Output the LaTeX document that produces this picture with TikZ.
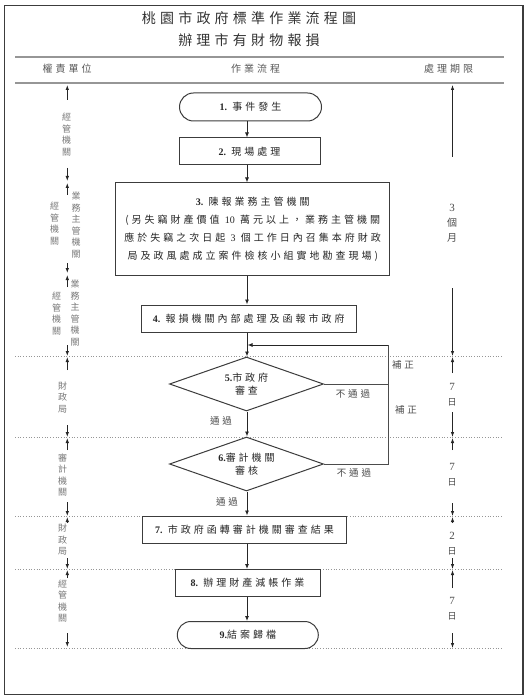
\documentclass[tikz,border=0pt]{standalone}
\usepackage{fontspec}
\setmainfont{Liberation Serif}
\newfontfamily\cjk[LetterSpace=30]{Noto Sans CJK TC}
\newfontfamily\cjkv{Noto Sans CJK TC}
\newfontfamily\lat{Liberation Serif}
\newcommand\stepno[1]{{\lat\bfseries #1}}
\usetikzlibrary{shapes.geometric,shapes.misc,arrows.meta}
\definecolor{linegray}{RGB}{60,60,60}
\definecolor{sidegray}{RGB}{120,120,120}
\definecolor{rulegray}{RGB}{150,150,150}
\tikzset{
  box/.style={draw=linegray, line width=1pt, inner sep=0pt, align=center,
    font=\cjk\fontsize{10}{18}\selectfont, text=black!85},
  term/.style={box, rounded rectangle},
  dec/.style={box, diamond, minimum width=154pt, minimum height=54pt, aspect=2.85},
  arr/.style={draw=black!85, line width=0.9pt, -{Latex[length=5pt,width=4pt]}},
  lin/.style={draw=black!70, line width=0.9pt},
  sarr/.style={draw=black!85, line width=0.8pt, -{Latex[length=5pt,width=3.5pt]}},
  side/.style={font=\cjkv\fontsize{9}{11.5}\selectfont, text=sidegray, align=center, inner sep=0pt},
  rside/.style={font=\lat\fontsize{11}{15}\selectfont, text=black!70, align=center, inner sep=0pt},
  lbl/.style={font=\cjk\fontsize{9.5}{11}\selectfont, text=black!70, inner sep=0pt},
  hdr/.style={font=\cjk\fontsize{10}{12}\selectfont, text=black!65, inner sep=0pt},
  ttl/.style={font=\cjk\fontsize{14}{16}\selectfont, text=black!80, inner sep=0pt},
  dotl/.style={draw=rulegray, line width=0.7pt, dotted},
  rule/.style={draw=rulegray, line width=1.6pt}
}
\begin{document}
\begin{tikzpicture}[x=1pt,y=-1pt]
\useasboundingbox (0,0) rectangle (528,700);
\fill[white] (0,0) rectangle (528,700);
% frame
\draw[draw=linegray, line width=1.2pt] (4.5,5.5) rectangle (523,694.5);
% title
\node[ttl] (t1) at (249,18) {桃園市政府標準作業流程圖};
\node[ttl] (t2) at (249,40) {辦理市有財物報損};
% header rules
\coordinate (hA1) at (15,57.3); \coordinate (hA2) at (504,57.3);
\coordinate (hB1) at (15,83.3); \coordinate (hB2) at (504,83.3);
\draw[rule] (hA1) -- (hA2);
\draw[rule] (hB1) -- (hB2);
\node[hdr] (h1) at (67,69) {權責單位};
\node[hdr] (h2) at (255.5,69) {作業流程};
\node[hdr] (h3) at (448.5,69) {處理期限};
% dotted separators
\foreach \yy [count=\i] in {356,437,516,569,648}{
  \coordinate (dl\i) at (15,\yy); \coordinate (dr\i) at (503,\yy);
  \draw[dotl] (dl\i) -- (dr\i);
}
% flow axis
\coordinate (fx) at (247,0);
% flow nodes
\node[term, minimum width=142pt, minimum height=28pt] (n1) at (250.5,107) {\stepno{1.}~事件發生};
\node[box, minimum width=141pt, minimum height=27pt] (n2) at (249.5,151.5) {\stepno{2.}~現場處理};
\node[box, minimum width=274pt, minimum height=92pt, font=\cjk\fontsize{10}{18}\selectfont] (n3) at (252.7,229)
  {\stepno{3.}~陳報業務主管機關\\(另失竊財產價值 {\lat 10} 萬元以上，業務主管機關\\應於失竊之次日起 {\lat 3} 個工作日內召集本府財政\\局及政風處成立案件檢核小組實地勘查現場)};
\node[box, minimum width=215pt, minimum height=27pt] (n4) at (248.8,318.5) {\stepno{4.}~報損機關內部處理及函報市政府};
\node[dec, font=\cjk\fontsize{10}{13}\selectfont] (d5) at (246.5,384) {\stepno{5.}市政府\\審查};
\node[dec, font=\cjk\fontsize{10}{13}\selectfont] (d6) at (246.5,464) {\stepno{6.}審計機關\\審核};
\node[box, minimum width=204pt, minimum height=27pt] (n7) at (244.5,529.5) {\stepno{7.}~市政府函轉審計機關審查結果};
\node[box, minimum width=145pt, minimum height=27pt] (n8) at (247.5,583) {\stepno{8.}~辦理財產減帳作業};
\node[term, minimum width=141pt, minimum height=27pt] (n9) at (247.8,635) {\stepno{9.}結案歸檔};
% flow connectors
\draw[arr] (n1.south -| fx) -- (n2.north -| fx);
\draw[arr] (n2.south -| fx) -- (n3.north -| fx);
\draw[arr] (n3.south -| fx) -- (n4.north -| fx);
\draw[arr] (n4.south -| fx) -- (d5.north -| fx);
\draw[arr] (d5.south -| fx) -- (d6.north -| fx);
\draw[arr] (d6.south -| fx) -- (n7.north -| fx);
\draw[arr] (n7.south -| fx) -- (n8.north -| fx);
\draw[arr] (n8.south -| fx) -- (n9.north -| fx);
% loop back
\coordinate (lpTop) at (388,345);
\coordinate (lpEnd) at (247.5,345);
\draw[lin] (d5.east) -- (d5.east -| lpTop);
\draw[lin] (d6.east) -| (lpTop);
\draw[arr] (lpTop) -- (lpEnd);
\node[lbl] (b1) at (403,365) {補正};
\node[lbl] (b2) at (406,410) {補正};
\node[lbl] (f1) at (353,394) {不通過};
\node[lbl] (f2) at (354,473) {不通過};
\node[lbl] (p1) at (221,421) {通過};
\node[lbl] (p2) at (227,502) {通過};
% left column
\node[side] (L1) at (66.5,134.5) {經\\管\\機\\關};
\node[side] (L2a) at (54.5,223.5) {經\\管\\機\\關};
\node[side] (L2b) at (76,225) {業\\務\\主\\管\\機\\關};
\node[side] (L3a) at (56.5,313.5) {經\\管\\機\\關};
\node[side] (L3b) at (75,313) {業\\務\\主\\管\\機\\關};
\node[side] (L4) at (62.5,397.5) {財\\政\\局};
\node[side] (L5) at (62.5,475) {審\\計\\機\\關};
\node[side] (L6) at (62.5,540) {財\\政\\局};
\node[side] (L7) at (62.5,601) {經\\管\\機\\關};
\foreach \ya/\yb/\yc/\yd [count=\i] in {100/85/168/181, 195/183/263/273, 287/275/345/356, 370/357/425/437, 450/438/502/516, 523/517/558/569, 578/570/633/647}{
  \coordinate (la\i) at (67.3,\ya); \coordinate (lb\i) at (67.3,\yb);
  \coordinate (lc\i) at (67.3,\yc); \coordinate (ld\i) at (67.3,\yd);
  \draw[sarr] (la\i) -- (lb\i);
  \draw[sarr] (lc\i) -- (ld\i);
}
% right column
\node[rside] (R1) at (452,223) {3\\{\cjkv\fontsize{10}{15}\selectfont 個}\\{\cjkv\fontsize{10}{15}\selectfont 月}};
\node[rside] (R2) at (452,394.5) {7\\{\cjkv\fontsize{9}{15}\selectfont 日}};
\node[rside] (R3) at (452,474.5) {7\\{\cjkv\fontsize{9}{15}\selectfont 日}};
\node[rside] (R4) at (452,543.5) {2\\{\cjkv\fontsize{9}{15}\selectfont 日}};
\node[rside] (R5) at (452,608.5) {7\\{\cjkv\fontsize{9}{15}\selectfont 日}};
\foreach \ya/\yb/\yc/\yd [count=\i] in {157/85/288/356, 373/357/412/437, 450/438/503/516, 523/517/558/569, 588/570/633/648}{
  \coordinate (ra\i) at (452.5,\ya); \coordinate (rb\i) at (452.5,\yb);
  \coordinate (rc\i) at (452.5,\yc); \coordinate (rd\i) at (452.5,\yd);
  \draw[sarr] (ra\i) -- (rb\i);
  \draw[sarr] (rc\i) -- (rd\i);
}
\end{tikzpicture}
\end{document}
